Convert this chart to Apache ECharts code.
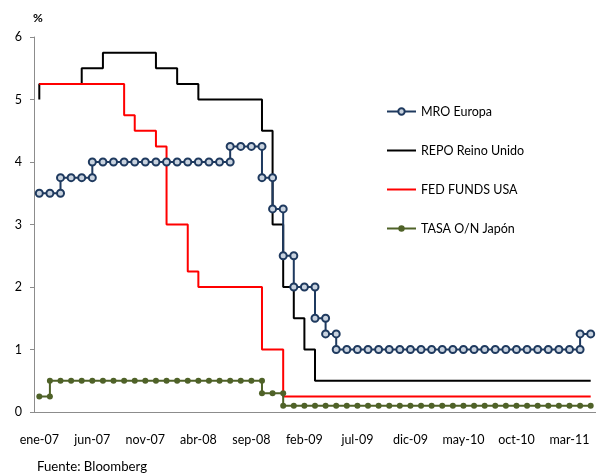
<!DOCTYPE html>
<html>
<head>
<meta charset="utf-8">
<script src="https://cdn.jsdelivr.net/npm/echarts@6/dist/echarts.min.js"></script>
<style>
  html, body { margin: 0; padding: 0; background: #fff; }
  #chart { width: 596px; height: 473px; }
</style>
</head>
<body>
<div id="chart"></div>
<script>
// Meses de ene-07 a may-11
const meses = ['ene','feb','mar','abr','may','jun','jul','ago','sep','oct','nov','dic'];
const categorias = [];
for (let a = 7; a <= 11; a++) {
  for (let m = 0; m < 12; m++) {
    if (a === 11 && m > 4) break;
    categorias.push(meses[m] + '-' + String(a).padStart(2, '0'));
  }
}

// Tipos oficiales (%) al cierre de cada mes
const mroEuropa = [
  3.5, 3.5, 3.75, 3.75, 3.75, 4, 4, 4, 4, 4, 4, 4,
  4, 4, 4, 4, 4, 4, 4.25, 4.25, 4.25, 3.75, 3.25, 2.5,
  2, 2, 1.5, 1.25, 1, 1, 1, 1, 1, 1, 1, 1,
  1, 1, 1, 1, 1, 1, 1, 1, 1, 1, 1, 1,
  1, 1, 1, 1.25, 1.25
];
const repoReinoUnido = [
  5.25, 5.25, 5.25, 5.25, 5.5, 5.5, 5.75, 5.75, 5.75, 5.75, 5.75, 5.5,
  5.5, 5.25, 5.25, 5, 5, 5, 5, 5, 5, 4.5, 3, 2,
  1.5, 1, 0.5, 0.5, 0.5, 0.5, 0.5, 0.5, 0.5, 0.5, 0.5, 0.5,
  0.5, 0.5, 0.5, 0.5, 0.5, 0.5, 0.5, 0.5, 0.5, 0.5, 0.5, 0.5,
  0.5, 0.5, 0.5, 0.5, 0.5
];
const repoPrevio = 5.0; // nivel vigente antes de la subida de ene-07
const fedFunds = [
  5.25, 5.25, 5.25, 5.25, 5.25, 5.25, 5.25, 5.25, 4.75, 4.5, 4.5, 4.25,
  3, 3, 2.25, 2, 2, 2, 2, 2, 2, 1, 1, 0.25,
  0.25, 0.25, 0.25, 0.25, 0.25, 0.25, 0.25, 0.25, 0.25, 0.25, 0.25, 0.25,
  0.25, 0.25, 0.25, 0.25, 0.25, 0.25, 0.25, 0.25, 0.25, 0.25, 0.25, 0.25,
  0.25, 0.25, 0.25, 0.25, 0.25
];
const tasaJapon = [
  0.25, 0.5, 0.5, 0.5, 0.5, 0.5, 0.5, 0.5, 0.5, 0.5, 0.5, 0.5,
  0.5, 0.5, 0.5, 0.5, 0.5, 0.5, 0.5, 0.5, 0.5, 0.3, 0.3, 0.1,
  0.1, 0.1, 0.1, 0.1, 0.1, 0.1, 0.1, 0.1, 0.1, 0.1, 0.1, 0.1,
  0.1, 0.1, 0.1, 0.1, 0.1, 0.1, 0.1, 0.1, 0.1, 0.1, 0.1, 0.1,
  0.1, 0.1, 0.1, 0.1, 0.1
];
const ticksY = [0, 1, 2, 3, 4, 5, 6];

// Escalones: al cambiar de nivel se repite el mes con el valor anterior
function escalones(valores, previo) {
  const pts = [];
  if (previo != null && previo !== valores[0]) pts.push([0, previo]);
  valores.forEach((v, i) => {
    if (i > 0 && v !== valores[i - 1]) pts.push([i, valores[i - 1]]);
    pts.push([i, v]);
  });
  return pts;
}

const fuente = 'Lato, "Open Sans", sans-serif';
const chart = echarts.init(document.getElementById('chart'), null, { renderer: 'canvas' });

chart.setOption({
  animation: false,
  backgroundColor: '#ffffff',
  textStyle: { fontFamily: fuente },
  grid: { left: 34, top: 37, width: 563, height: 375, containLabel: false },
  title: [
    { text: '%', left: 33, top: 12, padding: 0, textStyle: { fontSize: 12, fontWeight: 'bold', color: '#000', fontFamily: fuente } },
    { text: 'Fuente: Bloomberg', left: 37, top: 460, padding: 0, textStyle: { fontSize: 13.2, fontWeight: 'normal', color: '#000', fontFamily: fuente } }
  ],
  legend: {
    orient: 'vertical',
    left: 386,
    top: 105,
    padding: 0,
    itemWidth: 29,
    itemHeight: 8,
    itemGap: 26,
    textStyle: { fontSize: 12.5, color: '#000', fontFamily: fuente },
    data: [
      { name: 'MRO Europa' },
      { name: 'REPO Reino Unido', itemStyle: { opacity: 0 } },
      { name: 'FED FUNDS USA', itemStyle: { opacity: 0 } },
      { name: 'TASA O/N Japón' }
    ]
  },
  xAxis: {
    type: 'category',
    data: categorias,
    boundaryGap: true,
    axisLine: { lineStyle: { color: '#8c8c8c', width: 1 } },
    axisTick: { interval: 4, length: 5, lineStyle: { color: '#8c8c8c' } },
    axisLabel: { interval: 4, margin: 21, fontSize: 12.5, color: '#000', fontFamily: fuente },
    splitLine: { show: false }
  },
  yAxis: {
    type: 'value',
    min: ticksY[0],
    max: ticksY[ticksY.length - 1],
    interval: 1,
    axisLine: { show: true, lineStyle: { color: '#8c8c8c', width: 1 } },
    axisTick: { show: true, length: 4, lineStyle: { color: '#8c8c8c' } },
    axisLabel: { margin: 12, fontSize: 12.5, color: '#000', fontFamily: fuente },
    splitLine: { show: false }
  },
  series: [
    {
      name: 'REPO Reino Unido',
      type: 'line',
      data: escalones(repoReinoUnido, repoPrevio),
      symbol: 'none',
      lineStyle: { color: '#000000', width: 2 },
      itemStyle: { color: '#000000' },
      z: 2
    },
    {
      name: 'FED FUNDS USA',
      type: 'line',
      data: escalones(fedFunds),
      symbol: 'none',
      lineStyle: { color: '#ff0000', width: 2 },
      itemStyle: { color: '#ff0000' },
      z: 3
    },
    {
      name: 'MRO Europa',
      type: 'line',
      data: escalones(mroEuropa),
      symbol: 'circle',
      symbolSize: 7,
      showAllSymbol: true,
      lineStyle: { color: '#1f3a5f', width: 2 },
      itemStyle: { color: '#c9d3df', borderColor: '#1f3a5f', borderWidth: 2 },
      z: 4
    },
    {
      name: 'TASA O/N Japón',
      type: 'line',
      data: escalones(tasaJapon),
      symbol: 'circle',
      symbolSize: 6,
      showAllSymbol: true,
      lineStyle: { color: '#4f6228', width: 2 },
      itemStyle: { color: '#4f6228', borderColor: '#4f6228', borderWidth: 0 },
      z: 4
    }
  ]
});
</script>
</body>
</html>
